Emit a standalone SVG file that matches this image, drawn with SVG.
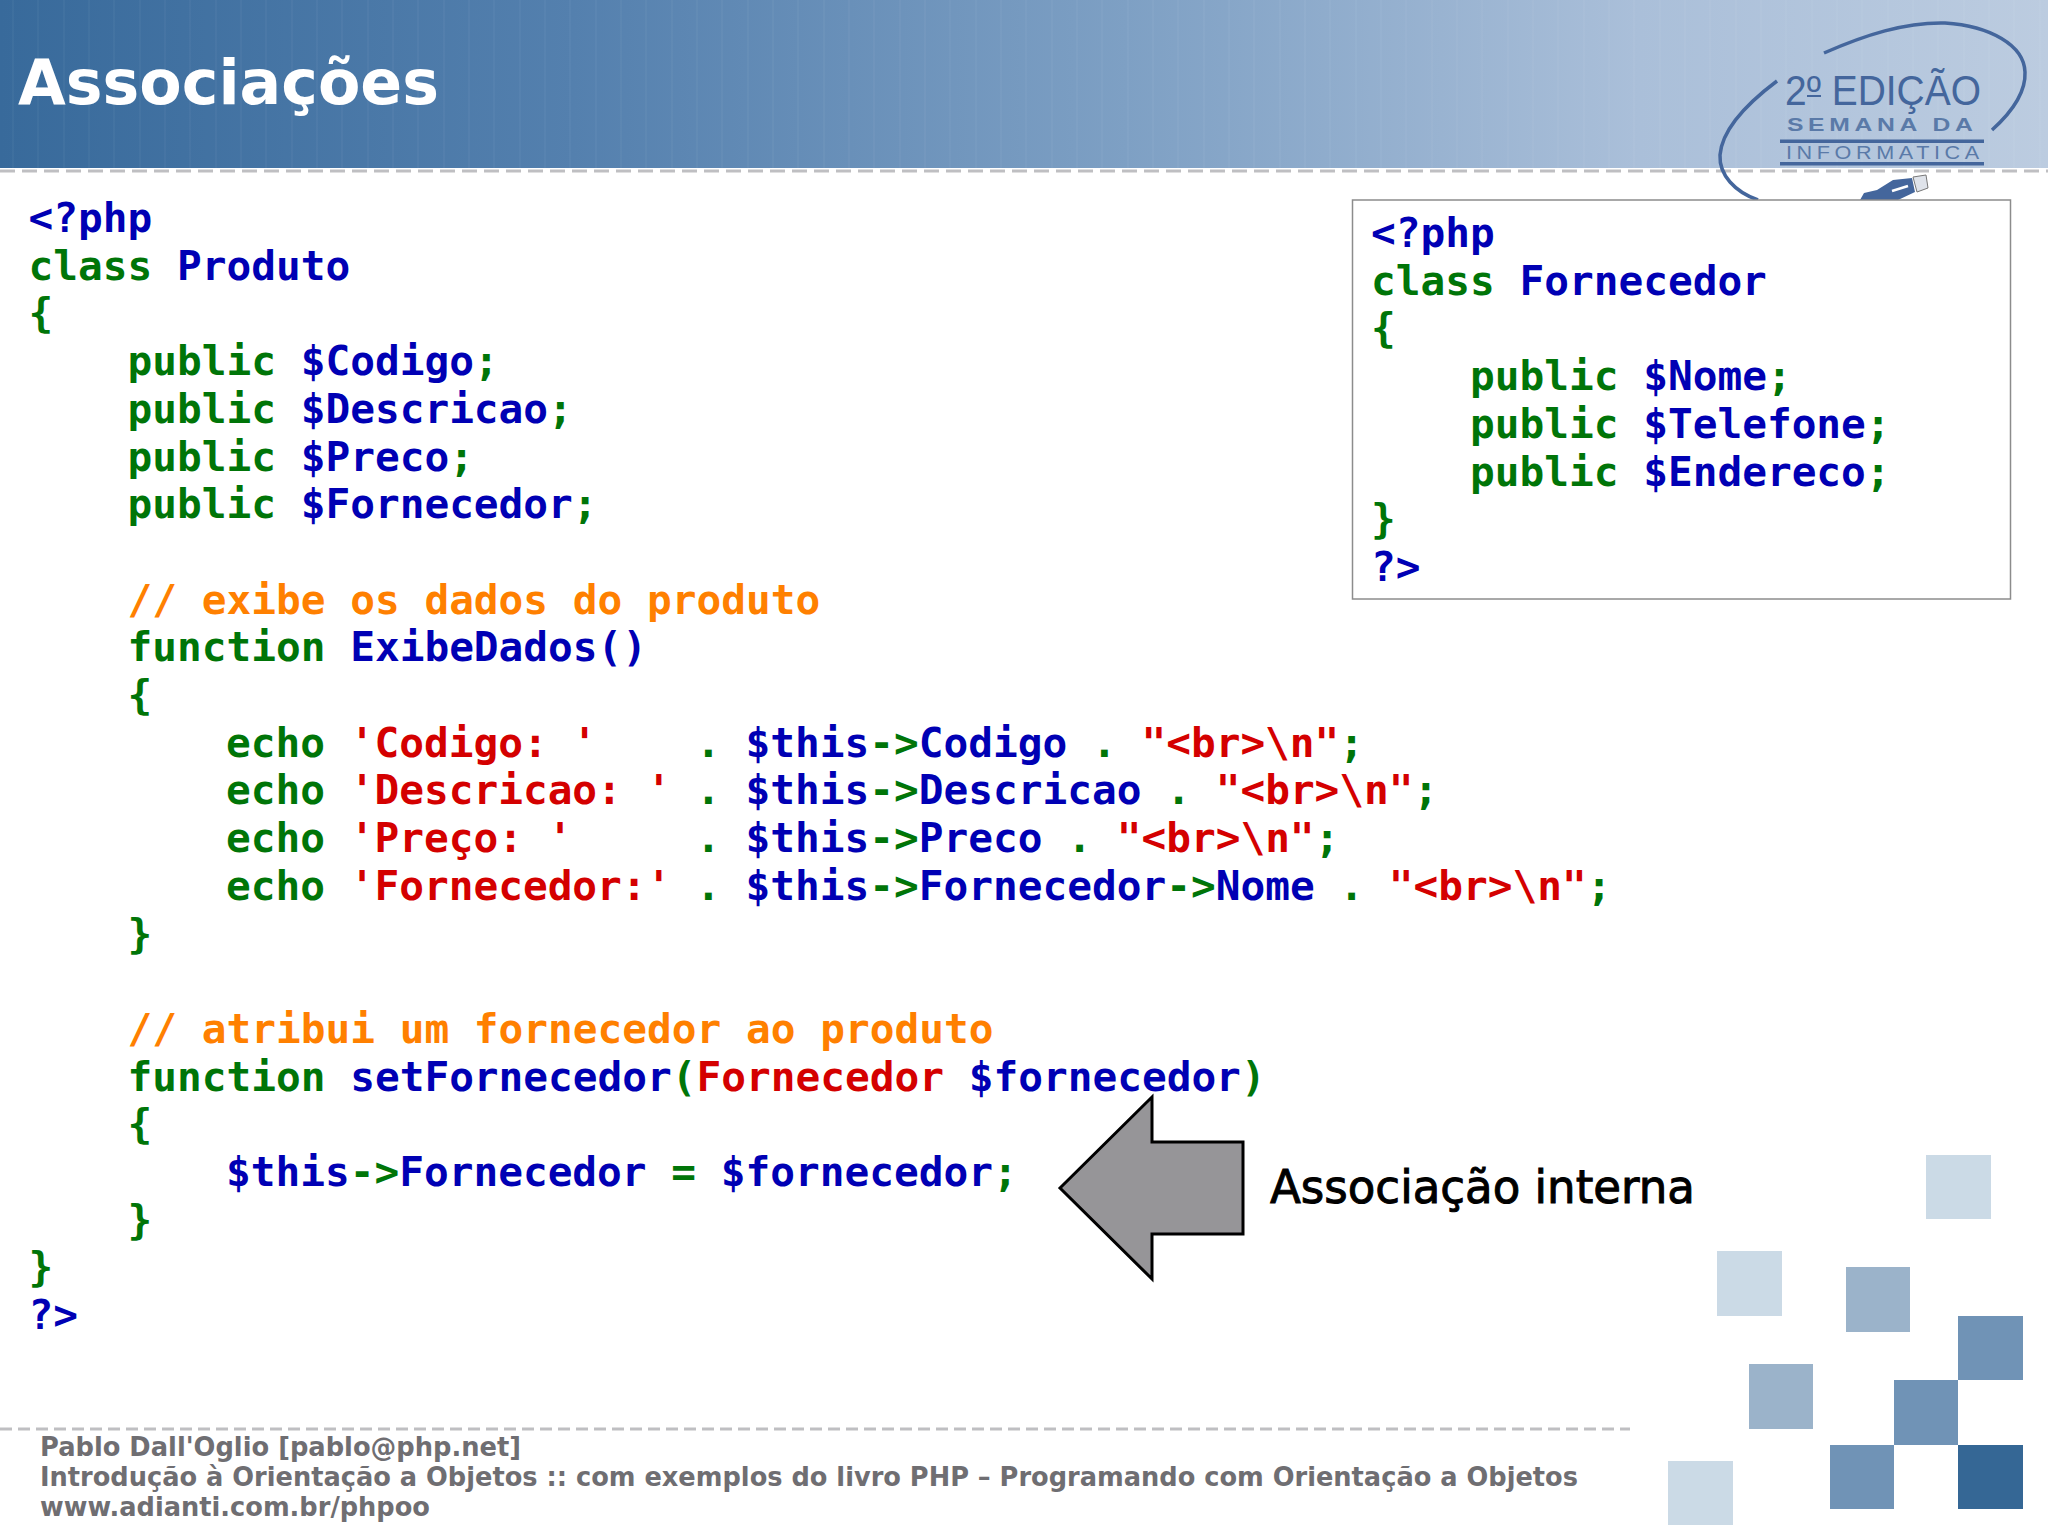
<svg xmlns="http://www.w3.org/2000/svg" width="2048" height="1535" viewBox="0 0 2048 1535">
<style>
.c{font-family:"DejaVu Sans Mono","Liberation Mono",monospace;font-weight:700;font-size:41.1px;fill:#0000b4}
.g{fill:#007508}.r{fill:#d40000}.o{fill:#ff8000}.b{fill:#0000b4}
.f{font-family:"DejaVu Sans",sans-serif;font-weight:700;font-size:26.5px;fill:#6f6e72}
.l{font-family:"Liberation Sans",Arial,sans-serif;fill:#44669c}
.s1{fill:#cbdae6}.s2{fill:#9bb3ca}.s3{fill:#7093b6}.s4{fill:#356795}
.d{stroke:#bfbfc2;stroke-width:3;stroke-dasharray:15 7;fill:none}
</style>
<defs>
<linearGradient id="hg" x1="0" x2="1" y1="0" y2="0">
<stop offset="0" stop-color="#386a9b"/><stop offset=".28" stop-color="#5480ae"/><stop offset=".55" stop-color="#7ea0c4"/><stop offset=".8" stop-color="#aabfd9"/><stop offset="1" stop-color="#bccce0"/>
</linearGradient>
<pattern id="hp" width="76" height="170" patternUnits="userSpaceOnUse">
<path d="M13 0V170M38 0V170M64 0V170" stroke="#fff" stroke-opacity=".04" stroke-width="1.5"/>
</pattern>
</defs>
<rect width="2048" height="1535" fill="#fff"/>
<g id="header">
<rect width="2048" height="168" fill="url(#hg)"/>
<rect width="2048" height="168" fill="url(#hp)"/>
<path class="d" d="M0 171H2048"/>
<text x="18" y="104" font-family="DejaVu Sans" font-weight="700" font-size="62" fill="#fff" textLength="421" lengthAdjust="spacingAndGlyphs">Associações</text>
</g>
<g id="logo">
<path d="M1824 53C1865 35 1905 22 1945 23C1990 26 2024 45 2025 72C2026 92 2012 112 1992 130" fill="none" stroke="#44669c" stroke-width="3.500"/>
<path d="M1777 81C1745 105 1722 130 1720 155C1719 175 1735 192 1758 200" fill="none" stroke="#44669c" stroke-width="3.500"/>
<text class="l" x="1785" y="105" font-size="42" textLength="196" lengthAdjust="spacingAndGlyphs">2º EDIÇÃO</text>
<rect x="1807" y="95" width="14" height="2" fill="#44669c"/>
<text class="l" transform="translate(1787 131) scale(1.3 1)" font-size="19" textLength="143" font-weight="700" style="fill:#5a7aa8">SEMANA DA</text>
<rect x="1780" y="139.500" width="204" height="3.500" fill="#44669c"/>
<text class="l" transform="translate(1786 159) scale(1.2 1)" font-size="18" textLength="161" style="fill:#5a7aa8">INFORMATICA</text>
<rect x="1780" y="162" width="204" height="3.500" fill="#44669c"/>
<path d="M1860 200L1864 193L1877 190L1893 180L1912 178L1915 192L1898 200Z" fill="#44669c"/>
<path d="M1892 191L1908 186" stroke="#fff" stroke-width="2.500"/>
<path d="M1913 177L1926 175L1928 188L1917 192Z" fill="#dfe3ea" stroke="#777" stroke-width="1"/>
</g>
<g id="produto" class="c">
<text x="28.500" y="232">&lt;?php</text>
<text x="28.500" y="279.700"><tspan class="g">class </tspan>Produto</text>
<text x="28.500" y="327.400" class="c g">{</text>
<text x="127.500" y="375.100"><tspan class="g">public </tspan>$Codigo<tspan class="g">;</tspan></text>
<text x="127.500" y="422.800"><tspan class="g">public </tspan>$Descricao<tspan class="g">;</tspan></text>
<text x="127.500" y="470.500"><tspan class="g">public </tspan>$Preco<tspan class="g">;</tspan></text>
<text x="127.500" y="518.200"><tspan class="g">public </tspan>$Fornecedor<tspan class="g">;</tspan></text>
<text x="127.500" y="613.600" class="c o">// exibe os dados do produto</text>
<text x="127.500" y="661.300"><tspan class="g">function </tspan>ExibeDados()</text>
<text x="127.500" y="709" class="c g">{</text>
<text x="226" y="756.700"><tspan class="g">echo </tspan><tspan class="r">'Codigo: '</tspan>&#160;&#160;&#160;&#160;<tspan class="g">. </tspan>$this<tspan class="g">-&gt;</tspan>Codigo <tspan class="g">. </tspan><tspan class="r">"&lt;br&gt;\n"</tspan><tspan class="g">;</tspan></text>
<text x="226" y="804.400"><tspan class="g">echo </tspan><tspan class="r">'Descricao: '</tspan> <tspan class="g">. </tspan>$this<tspan class="g">-&gt;</tspan>Descricao <tspan class="g">. </tspan><tspan class="r">"&lt;br&gt;\n"</tspan><tspan class="g">;</tspan></text>
<text x="226" y="852.100"><tspan class="g">echo </tspan><tspan class="r">'Preço: '</tspan>&#160;&#160;&#160;&#160;&#160;<tspan class="g">. </tspan>$this<tspan class="g">-&gt;</tspan>Preco <tspan class="g">. </tspan><tspan class="r">"&lt;br&gt;\n"</tspan><tspan class="g">;</tspan></text>
<text x="226" y="899.800"><tspan class="g">echo </tspan><tspan class="r">'Fornecedor:'</tspan> <tspan class="g">. </tspan>$this<tspan class="g">-&gt;</tspan>Fornecedor<tspan class="g">-&gt;</tspan>Nome <tspan class="g">. </tspan><tspan class="r">"&lt;br&gt;\n"</tspan><tspan class="g">;</tspan></text>
<text x="127.500" y="947.500" class="c g">}</text>
<text x="127.500" y="1042.900" class="c o">// atribui um fornecedor ao produto</text>
<text x="127.500" y="1090.600"><tspan class="g">function </tspan>setFornecedor<tspan class="g">(</tspan><tspan class="r">Fornecedor </tspan>$fornecedor<tspan class="g">)</tspan></text>
<text x="127.500" y="1138.300" class="c g">{</text>
<text x="226" y="1186">$this<tspan class="g">-&gt;</tspan>Fornecedor <tspan class="g">= </tspan>$fornecedor<tspan class="g">;</tspan></text>
<text x="127.500" y="1233.700" class="c g">}</text>
<text x="28.500" y="1281.400" class="c g">}</text>
<text x="28.500" y="1329.100">?&gt;</text>
</g>
<g id="fornecedor" class="c">
<rect x="1352.500" y="200" width="658" height="399" fill="#fff" stroke="#8c8c8c" stroke-width="1.500"/>
<text x="1371" y="247">&lt;?php</text>
<text x="1371" y="294.700"><tspan class="g">class </tspan>Fornecedor</text>
<text x="1371" y="342.400" class="c g">{</text>
<text x="1470" y="390.100"><tspan class="g">public </tspan>$Nome<tspan class="g">;</tspan></text>
<text x="1470" y="437.800"><tspan class="g">public </tspan>$Telefone<tspan class="g">;</tspan></text>
<text x="1470" y="485.500"><tspan class="g">public </tspan>$Endereco<tspan class="g">;</tspan></text>
<text x="1371" y="533.200" class="c g">}</text>
<text x="1371" y="580.900">?&gt;</text>
</g>
<g id="seta">
<path d="M1060 1188L1152 1097V1142H1243V1234H1152V1279Z" fill="#969598" stroke="#000" stroke-width="3" stroke-linejoin="miter"/>
<text x="1270" y="1203" font-family="DejaVu Sans,sans-serif" font-size="47" fill="#000" stroke="#000" stroke-width="1" textLength="425" lengthAdjust="spacingAndGlyphs">Associação interna</text>
</g>
<g id="quadros">
<rect class="s1" x="1926" y="1155" width="65" height="64"/>
<rect class="s1" x="1717" y="1251" width="65" height="65"/>
<rect class="s2" x="1846" y="1267" width="64" height="65"/>
<rect class="s3" x="1958" y="1316" width="65" height="64"/>
<rect class="s2" x="1749" y="1364" width="64" height="65"/>
<rect class="s3" x="1894" y="1380" width="64" height="65"/>
<rect class="s3" x="1830" y="1445" width="64" height="64"/>
<rect class="s4" x="1958" y="1445" width="65" height="64"/>
<rect class="s1" x="1668" y="1461" width="65" height="64"/>
</g>
<g id="rodape">
<path class="d" d="M0 1429H1630" style="stroke-dasharray:12 6"/>
<text class="f" x="40" y="1455.500" textLength="481" lengthAdjust="spacingAndGlyphs">Pablo Dall'Oglio [pablo@php.net]</text>
<text class="f" x="40" y="1486" textLength="1538" lengthAdjust="spacingAndGlyphs">Introdução à Orientação a Objetos :: com exemplos do livro PHP – Programando com Orientação a Objetos</text>
<text class="f" x="40" y="1516" textLength="390" lengthAdjust="spacingAndGlyphs">www.adianti.com.br/phpoo</text>
</g>
</svg>
